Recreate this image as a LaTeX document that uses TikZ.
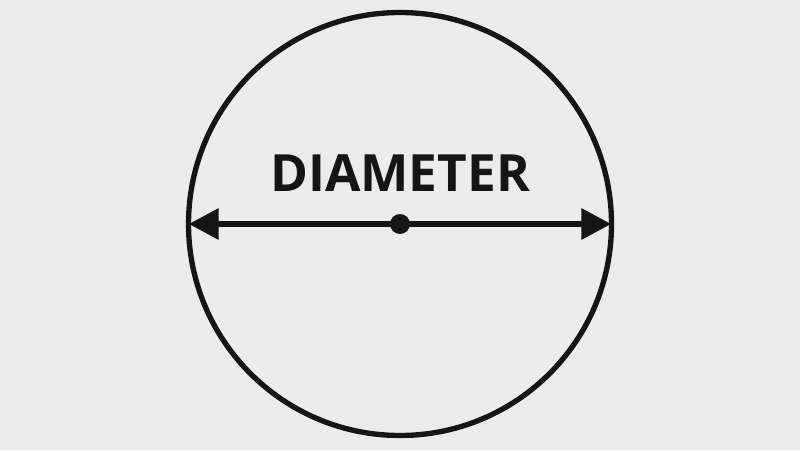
\documentclass[tikz,border=0pt]{standalone}
\usepackage{fontspec}
\setmainfont{Open Sans}
\usepackage{tikz}
\usetikzlibrary{positioning, arrows.meta}

\definecolor{paper}{HTML}{ECECEC}
\definecolor{ink}{HTML}{151515}

\tikzset{
    rim/.style={draw=ink, line width=4pt},
    dimline/.style={draw=ink, line width=4.8pt, {Triangle[length=22.5pt,width=22.5pt]}-{Triangle[length=22.5pt,width=22.5pt]}, shorten <=-1pt, shorten >=-1pt},
    hub/.style={circle, fill=ink, inner sep=0pt, minimum size=15pt},
    caption/.style={font=\bfseries\fontsize{38.5}{38.5}\selectfont, text=ink}
}

\begin{document}
\begin{tikzpicture}[x=0.75pt,y=0.75pt,yscale=-1,xscale=1]
        \fill[paper] (0,0) rectangle (800,450);
        \useasboundingbox (0,0) rectangle (800,450);
        % circle and its diameter
        \draw[rim] (400,224) circle (211.5);
        \node[hub] (centre) at (400,224) {};
        \coordinate (west) at (190,224);
        \coordinate (east) at (610,224);
        \draw[dimline] (west) -- (east);
        \node[caption] (label) at (400,173) {DIAMETER};
    \end{tikzpicture}
\end{document}
